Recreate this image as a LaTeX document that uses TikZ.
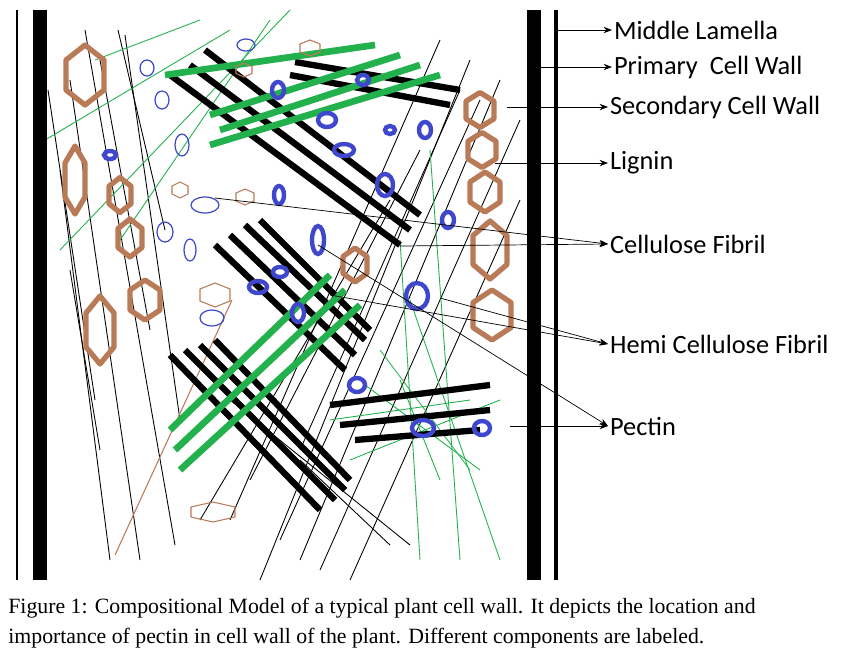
\documentclass[tikz,border=0pt]{standalone}
\usepackage{fontspec}
\setmainfont{Liberation Serif}
\newfontfamily\labelfont{Carlito}
\usetikzlibrary{arrows.meta}

\tikzset{
  wall/.style={line width=14*0.02cm},
  fib/.style={line width=0.5pt},
  thickblk/.style={line width=3.6pt},
  thickgrn/.style={line width=3.8pt,draw=cgreen},
  thingrn/.style={line width=0.5pt,draw=cgreen},
  hexb/.style={draw=cbrown,line width=3pt,line join=round},
  hexs/.style={draw=cbrown,line width=0.6pt},
  blueb/.style={draw=cblue,line width=2.5pt},
  blues/.style={draw=cblue,line width=0.7pt},
  lbl/.style={font=\labelfont\fontsize{15}{17}\selectfont,anchor=west,inner sep=1pt},
  >=Stealth
}
\definecolor{cgreen}{RGB}{34,177,76}
\definecolor{cbrown}{RGB}{185,122,87}
\definecolor{cblue}{RGB}{63,72,204}

\newcommand\hexa[5]{% style, x, y, w, h
  \draw[#1] (#2,#3-#5/2) -- (#2+#4/2,#3-#5/4) -- (#2+#4/2,#3+#5/4) -- (#2,#3+#5/2)
    -- (#2-#4/2,#3+#5/4) -- (#2-#4/2,#3-#5/4) -- cycle;}

\begin{document}
\begin{tikzpicture}[x=0.02cm,y=-0.02cm]
  \useasboundingbox (0,0) rectangle (845,664);

  % thin fibres
  \foreach \a/\b/\c/\d in {85/30/175/545, 100/60/150/330, 118/30/165/230, 70/80/140/560,
      60/170/110/560, 70/270/100/450, 125/35/180/420, 48/90/95/400,
      260/580/470/60, 300/560/500/80, 280/540/480/100, 320/570/520/120,
      250/480/420/150, 350/580/520/200, 230/520/440/40, 300/450/460/90,
      200/520/390/200, 230/400/410/545, 300/460/390/545}
    \draw[fib] (\a,\b) -- (\c,\d);
  \foreach \a/\b/\c/\d in {45/140/230/30, 60/250/290/10, 120/240/270/20, 95/60/200/20,
      410/300/500/560, 430/150/460/560, 380/350/470/470, 400/240/420/560,
      365/385/480/470, 400/380/440/480, 330/420/470/400, 350/460/500/400}
    \draw[thingrn] (\a,\b) -- (\c,\d);
  \draw[cbrown,line width=0.6pt] (232,300) -- (115,555);

  % thick fibrils
  \foreach \a/\b/\c/\d in {205/50/420/215, 190/65/410/230, 170/75/400/245,
      295/62/460/90, 290/75/450/105,
      215/245/345/370, 230/235/355/355, 245/225/365/340, 260/220/370/330,
      170/355/320/510, 185/350/335/500, 200/345/345/490, 215/340/350/480,
      330/405/490/385, 340/425/490/410, 355/440/480/430}
    \draw[thickblk] (\a,\b) -- (\c,\d);
  \foreach \a/\b/\c/\d in {165/75/375/45, 210/115/400/55, 220/130/420/65, 210/145/440/75,
      170/430/330/275, 175/450/345/290, 180/470/360/305}
    \draw[thickgrn] (\a,\b) -- (\c,\d);

  % lignin
  \foreach \x/\y/\w/\h in {85/75/38/60, 75/180/20/68, 120/195/22/35, 130/238/24/38,
      145/300/30/40, 100/330/28/68, 480/110/28/35, 482/150/28/35, 485/192/30/40,
      490/250/34/58, 492/315/38/50, 355/265/24/34}
    {\hexa{hexb}{\x}{\y}{\w}{\h}}
  \foreach \x/\y/\w/\h in {310/48/20/16, 180/190/16/16, 245/197/18/16, 215/295/30/24,
      213/512/44/20, 244/70/16/14}
    {\hexa{hexs}{\x}{\y}{\w}{\h}}

  % pectin
  \foreach \x/\y/\rx/\ry in {110/155/6/4, 278/90/6/8, 363/80/6/5, 327/120/9/7, 344/150/10/6,
      390/130/5/4, 425/130/6/8, 385/185/8/11, 279/195/5/9, 318/240/6/14, 280/272/7/5,
      258/287/9/6, 298/313/6/9, 417/296/11/13, 357/385/8/7, 448/220/6/8, 423/428/11/8, 482/428/8/7}
    \draw[blueb] (\x,\y) ellipse[x radius=\rx, y radius=\ry];
  \foreach \x/\y/\rx/\ry in {147/68/7/8, 162/100/7/9, 182/145/7/11, 165/232/8/10, 190/250/6/11,
      205/205/14/8, 212/318/12/8, 246/45/9/6}
    \draw[blues] (\x,\y) ellipse[x radius=\rx, y radius=\ry];

  % walls
  \draw[fib,line width=1.5pt] (17,10) -- (17,580);
  \draw[wall] (40,10) -- (40,580);
  \draw[wall] (534,10) -- (534,580);
  \draw[fib,line width=2pt] (556,10) -- (556,580);

  % labels
  \node[lbl] (ml) at (612,30) {Middle Lamella};
  \node[lbl] (pcw) at (612,67) {Primary\ \ Cell Wall};
  \node[lbl] (scw) at (608,107) {Secondary Cell Wall};
  \node[lbl] (lig) at (608,163) {Lignin};
  \node[lbl] (cel) at (608,244) {Cellulose Fibril};
  \node[lbl] (hem) at (608,344) {Hemi Cellulose Fibril};
  \node[lbl] (pec) at (608,426) {Pectin};

  \coordinate (mlS) at (557,30);
  \coordinate (pcwS) at (541,67);
  \coordinate (scwS) at (507,107);
  \coordinate (ligS) at (495,163);
  \coordinate (celA) at (215,198);
  \coordinate (celB) at (400,246);
  \coordinate (hemA) at (330,295);
  \coordinate (hemB) at (440,298);
  \coordinate (pecA) at (318,245);
  \coordinate (pecB) at (510,426);

  \draw[->] (mlS) -- (ml.west);
  \draw[->] (pcwS) -- (pcw.west);
  \draw[->] (scwS) -- (scw.west);
  \draw[->] (ligS) -- (lig.west);
  \draw[->] (celA) -- (cel.west);
  \draw[->] (celB) -- (cel.west);
  \draw[->] (hemA) -- (hem.west);
  \draw[->] (hemB) -- (hem.west);
  \draw[->] (pecA) -- (pec.west);
  \draw[->] (pecB) -- (pec.west);

  % caption
  \node[anchor=north west,align=left,inner sep=0pt,font=\fontsize{12.4}{17}\selectfont]
    (cap) at (8,598) {Figure 1: Compositional Model of a typical plant cell wall. It depicts the location and\\
    importance of pectin in cell wall of the plant. Different components are labeled.};
\end{tikzpicture}
\end{document}
